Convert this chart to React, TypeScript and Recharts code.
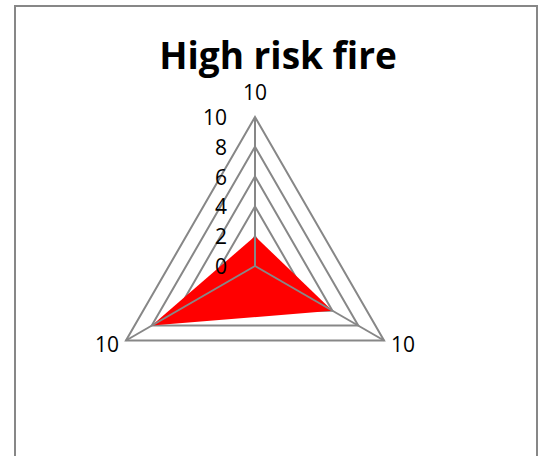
import { PolarAngleAxis, PolarGrid, PolarRadiusAxis, Radar, RadarChart } from 'recharts'

const categories = ['10', '10', '10']
const riskValues = [2, 6, 8]
const radiusTicks = [0, 2, 4, 6, 8, 10]

const data = categories.map((name, i) => ({ id: i, name, value: riskValues[i] }))

const gridColor = '#878787'
const font = '"Open Sans", Lato, sans-serif'

function AngleTick({ x, y, payload, textAnchor }: any) {
  // top label sits a bit higher above the spoke tip, like Excel
  const dy = textAnchor === 'middle' ? -17 : -1
  return (
    <text x={x} y={y + dy} textAnchor={textAnchor} dominantBaseline="central" fontSize={21} fill="#000" fontFamily={font}>
      {categories[payload.value] ?? payload.value}
    </text>
  )
}

function RadiusTick({ x, y, payload }: any) {
  return (
    <text x={x - 28} y={y} textAnchor="end" dominantBaseline="central" fontSize={21} fill="#000" fontFamily={font}>
      {payload.value}
    </text>
  )
}

export default function App() {
  return (
    <div style={{ position: 'absolute', left: 0, top: 0, width: 540, height: 456, overflow: 'hidden', background: '#fff' }}>
      <div
        style={{
          position: 'absolute',
          left: 14,
          top: 5,
          width: 524,
          height: 470,
          border: `2px solid ${gridColor}`,
          boxSizing: 'border-box',
        }}
      />
      <div
        style={{
          position: 'absolute',
          left: 16,
          width: 524,
          top: 31,
          textAlign: 'center',
          fontFamily: font,
          fontWeight: 700,
          fontSize: 37,
          lineHeight: '48px',
          color: '#000',
        }}
      >
        High risk fire
      </div>
      <div style={{ position: 'absolute', left: 0, top: 0 }}>
        <RadarChart width={540} height={456} data={data} cx={255} cy={266} outerRadius={149} margin={{ top: 0, right: 0, bottom: 0, left: 0 }}>
          <PolarGrid gridType="polygon" radialLines={false} stroke={gridColor} strokeWidth={2} />
          <PolarAngleAxis dataKey="id" axisLine={false} tickLine={false} tick={<AngleTick />} />
          <PolarRadiusAxis
            angle={90}
            domain={[0, 10]}
            ticks={radiusTicks as any}
            tickCount={6}
            orientation="left"
            axisLine={false}
            tickLine={false}
            tick={<RadiusTick />}
          />
          <Radar dataKey="value" fill="#ff0000" fillOpacity={1} stroke="none" isAnimationActive={false} />
          <PolarGrid gridType="polygon" polarRadius={[]} radialLines stroke={gridColor} strokeWidth={2} zIndex={600} />
        </RadarChart>
      </div>
    </div>
  )
}
